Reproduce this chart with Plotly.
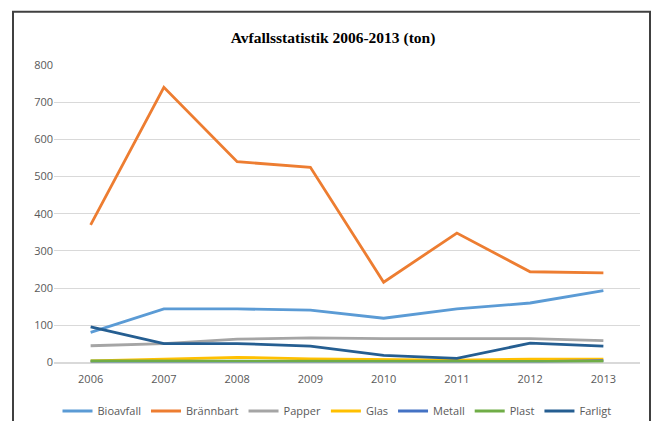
import plotly.graph_objects as go

years = ["2006", "2007", "2008", "2009", "2010", "2011", "2012", "2013"]
bioavfall = [81, 144, 144, 141, 119, 144, 160, 193]
brannbart = [370, 740, 540, 525, 216, 348, 244, 241]
papper = [45, 51, 63, 66, 64, 64, 64, 59]
glas = [4, 10, 14, 10, 8, 6, 9, 9]
metall = [2, 2, 2, 2, 2, 2, 2, 5]
plast = [4, 4, 4, 4, 5, 5, 5, 3]
farligt = [96, 51, 51, 44, 19, 11, 52, 44]

series = [
    ("Bioavfall", bioavfall, "#5B9BD5"),
    ("Brännbart", brannbart, "#ED7D31"),
    ("Papper", papper, "#A5A5A5"),
    ("Glas", glas, "#FFC000"),
    ("Metall", metall, "#4472C4"),
    ("Plast", plast, "#70AD47"),
    ("Farligt", farligt, "#255E91"),
]

fig = go.Figure()
for name, vals, col in series:
    fig.add_trace(go.Scatter(x=years, y=vals, name=name, mode="lines",
                             line=dict(color=col, width=2.8)))

OFF = 8  # page body margin
W, H = 659 - 2 * OFF, 429 - 2 * OFF
# target page coords: plot area x 54..640, y 65..366
L = 54 - OFF
R = W - (640 - OFF)
T = 65 - OFF
B = H - (366 - OFF) - 4  # compensate for small margin push from legend
pw = W - L - R
ph = H - T - (B + 4)

def px_x(x):
    return (x - OFF - L) / pw

def px_y(y):
    return (H - (B + 4) - (y - OFF)) / ph

fig.update_layout(
    width=W, height=H,
    margin=dict(l=L, r=R, t=T, b=B),
    paper_bgcolor="white", plot_bgcolor="white",
    title=dict(text="<b>Avfallsstatistik 2006-2013 (ton)</b>",
               font=dict(family="Liberation Serif", size=15.5, color="black"),
               x=(333 - OFF) / W, xanchor="center", y=1 - (38 - OFF) / H, yanchor="middle"),
    xaxis=dict(type="category", range=[-0.5, 7.5], showgrid=False,
               showline=False, ticks="", zeroline=False,
               tickfont=dict(family="Open Sans", size=11, color="#595959")),
    yaxis=dict(range=[0, 800], dtick=100, showgrid=True, gridcolor="#D9D9D9",
               gridwidth=1, showline=False, zeroline=True, zerolinecolor="#D9D9D9",
               ticks="", ticklen=0, tickfont=dict(family="Open Sans", size=11, color="#595959")),
    legend=dict(orientation="h", xref="container", yref="container",
                x=(337 - OFF) / W, xanchor="center",
                y=(H - (411 - OFF)) / H, yanchor="middle",
                font=dict(family="Open Sans", size=11, color="#595959"),
                itemwidth=30, tracegroupgap=0),
    showlegend=True,
    hovermode=False,
)
fig.update_xaxes(ticklabelstandoff=8)

fig.add_shape(type="rect", xref="paper", yref="paper",
              x0=px_x(13), x1=px_x(650), y0=px_y(445), y1=px_y(11),
              line=dict(color="#404040", width=2), fillcolor="rgba(0,0,0,0)", layer="above")

fig.write_html("out.html")
